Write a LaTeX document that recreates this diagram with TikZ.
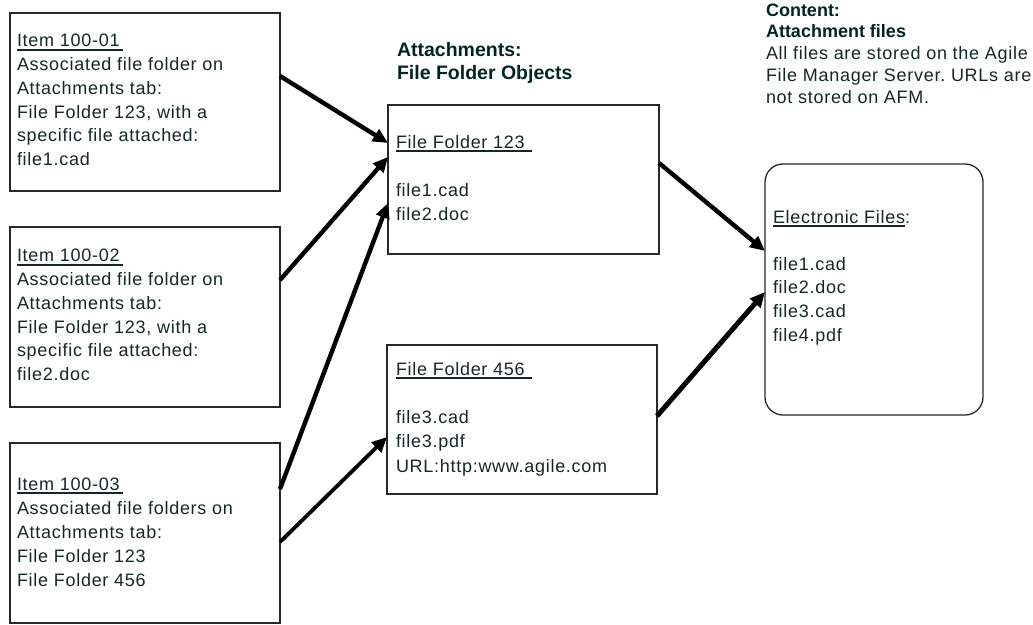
\documentclass[tikz,border=0pt]{standalone}
\usepackage{fontspec}
\setmainfont{Liberation Sans}
\newfontfamily\rgfont{Liberation Sans}[LetterSpace=4.0]
\usetikzlibrary{arrows.meta,calc}
\definecolor{ink}{RGB}{22,38,38}
\definecolor{headink}{RGB}{0,36,36}
\definecolor{frame}{RGB}{40,40,40}
\newcommand\ulx[2]{\setbox0\hbox{#1\kern#2}\rlap{\rule[-3.6pt]{\wd0}{1.4pt}}\box0}
\frenchspacing
\begin{document}
\begin{tikzpicture}[x=1pt,y=-1pt,
  box/.style={draw=frame, line width=1.3pt, inner sep=0pt, outer sep=0pt, anchor=north west},
  txt/.style={anchor=north west, inner sep=0pt, outer sep=0pt, align=left, text=ink},
  body/.style={txt, font=\rgfont\frenchspacing\fontsize{18}{#1}\selectfont},
  head/.style={txt, text=headink, font=\bfseries\fontsize{19.5}{23}\selectfont},
  arr/.style={line width=4.4pt, draw=black, -{Triangle[length=15pt,width=13.5pt]}}]
\useasboundingbox (0,0) rectangle (1033,624);

% item boxes
\node[box, minimum width=270pt, minimum height=178pt] (b1) at (10,13) {};
\node[box, minimum width=270pt, minimum height=180pt] (b2) at (10,227) {};
\node[box, minimum width=270pt, minimum height=180pt] (b3) at (10,443) {};
% folder boxes
\node[box, minimum width=271pt, minimum height=149pt] (f1) at (388,105) {};
\node[box, minimum width=270pt, minimum height=149pt] (f2) at (387,345) {};
% electronic files
\node[box, rounded corners=18pt, minimum width=218pt, minimum height=251pt] (ef) at (765,164) {};

% texts
\node[body=23.7] (t1) at (17,30.4) {\strut\ulx{Item 100-01}{3pt}\\Associated file folder on\\Attachments tab:\\File Folder 123, with a\\specific file attached:\\file1.cad};
\node[body=23.7] (t2) at (17,245.4) {\strut\ulx{Item 100-02}{3pt}\\Associated file folder on\\Attachments tab:\\File Folder 123, with a\\specific file attached:\\file2.doc};
\node[body=24] (t3) at (17,473.2) {\strut\ulx{Item 100-03}{3pt}\\Associated file folders on\\Attachments tab:\\File Folder 123\\File Folder 456};
\node[body=24] (tf1) at (396,131.2) {\strut\ulx{File Folder 123}{7pt}\\\mbox{}\\file1.cad\\file2.doc};
\node[body=24.3] (tf2) at (396,358) {\strut\ulx{File Folder 456}{7pt}\\\mbox{}\\file3.cad\\file3.pdf\\URL:http:www.agile.com};
\node[body=23.6] (tef) at (773,206.5) {\strut\ulx{Electronic Files}{0pt}:\\\mbox{}\\file1.cad\\file2.doc\\file3.cad\\file4.pdf};

% headings
\node[head] (h1) at (397,39.9) {\strut Attachments:\\File Folder Objects};
\node[body=21.9] (h2) at (766,0.7) {\strut{\color{headink}\normalfont\bfseries Content:}\\{\color{headink}\normalfont\bfseries Attachment files}\\All files are stored on the Agile\\File Manager Server. URLs are\\not stored on AFM.};

% connectors
\draw[arr] ($(b1.north east)+(0,63)$) -- ($(f1.north west)+(0,38)$);
\draw[arr] ($(b2.north east)+(0,53)$) -- ($(f1.north west)+(0,52)$);
\draw[arr] ($(b3.north east)+(0,46)$) -- ($(f1.north west)+(0,98)$);
\draw[arr, line width=3.8pt] ($(b3.north east)+(0,99)$) -- ($(f2.north west)+(0,92)$);
\draw[arr] ($(f1.north east)+(0,58)$) -- ($(ef.north west)+(0,87)$);
\draw[arr, line width=5pt] ($(f2.north east)+(0,71)$) -- ($(ef.north west)+(0,128)$);
\end{tikzpicture}
\end{document}
